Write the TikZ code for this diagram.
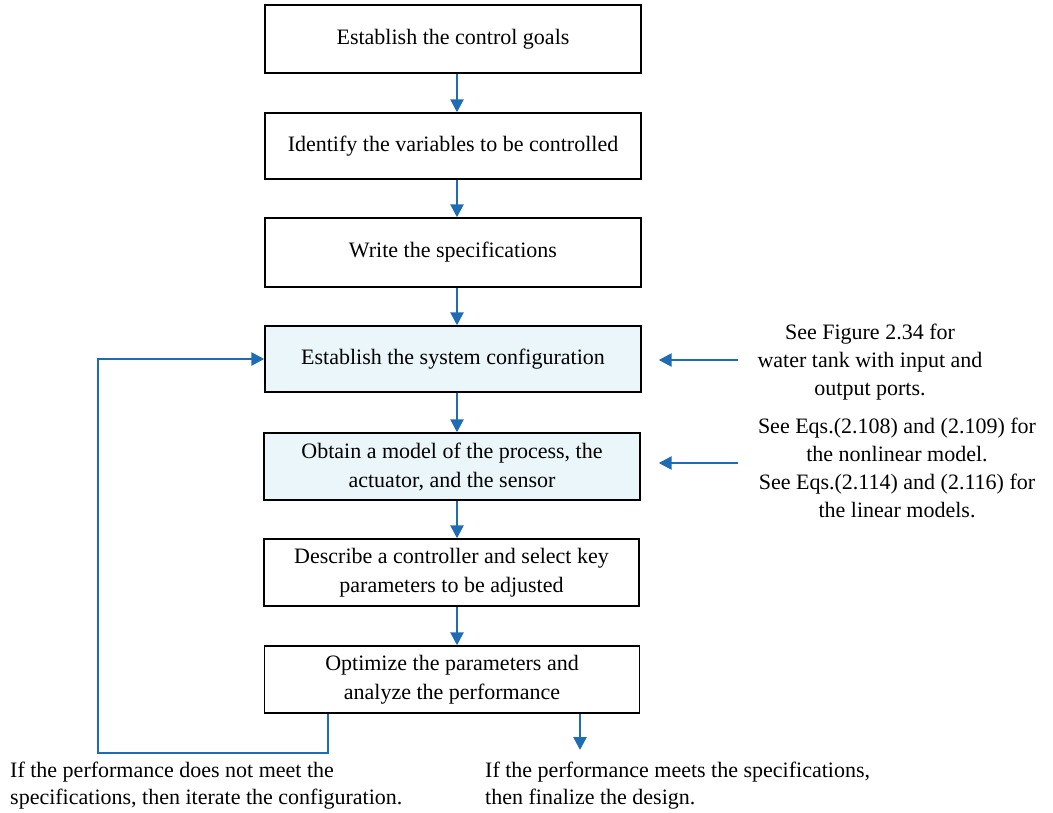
\documentclass[tikz,border=0pt]{standalone}
\usepackage{fontspec}
\setmainfont{Liberation Serif}
\usetikzlibrary{arrows.meta}
\definecolor{arrblue}{RGB}{30,108,180}
\definecolor{shade}{RGB}{234,246,250}
\tikzset{
  box/.style={draw=black, line width=1.4pt, minimum width=376pt, minimum height=67pt,
    align=center, inner sep=2pt, font=\fontsize{22}{29}\selectfont},
  shaded/.style={fill=shade},
  arr/.style={draw=arrblue, line width=2.6pt, -{Triangle[width=13pt,length=13pt]}},
  link/.style={draw=arrblue, line width=2.6pt},
  note/.style={align=center, inner sep=0pt, font=\fontsize{22}{28}\selectfont},
  foot/.style={align=left, inner sep=0pt, anchor=west, font=\fontsize{22}{27}\selectfont}
}
\begin{document}
\begin{tikzpicture}[x=1pt,y=-1pt]
\useasboundingbox (0,0) rectangle (1053,812);
\node[box, minimum height=68pt] (b1) at (453,39) {Establish the control goals};
\node[box, minimum height=66pt] (b2) at (453,146) {Identify the variables to be controlled};
\node[box, minimum height=69pt] (b3) at (453,252.5) {Write the specifications};
\node[box, shaded, minimum height=66pt] (b4) at (453,359) {Establish the system configuration};
\node[box, shaded] (b5) at (452,466.5) {Obtain a model of the process, the\\actuator, and the sensor};
\node[box, minimum width=375pt] (b6) at (451.5,572.5) {Describe a controller and select key\\parameters to be adjusted};
\node[box, minimum width=375pt] (b7) at (452,679.5) {Optimize the parameters and\\analyze the performance};

\node[note] (n1) at (870,362) {See Figure 2.34 for\\water tank with input and\\output ports.};
\node[note] (n2) at (897,467.5) {See Eqs.(2.108) and (2.109) for\\the nonlinear model.\\See Eqs.(2.114) and (2.116) for\\the linear models.};

\node[foot] (f1) at (10,786) {If the performance does not meet the\\specifications, then iterate the configuration.};
\node[foot] (f2) at (485,786) {If the performance meets the specifications,\\then finalize the design.};

\coordinate (ax) at (457,0);
\draw[arr] (b1.south -| ax) -- (b2.north -| ax);
\draw[arr] (b2.south -| ax) -- (b3.north -| ax);
\draw[arr] (b3.south -| ax) -- (b4.north -| ax);
\draw[arr] (b4.south -| ax) -- (b5.north -| ax);
\draw[arr] (b5.south -| ax) -- (b6.north -| ax);
\draw[arr] (b6.south -| ax) -- (b7.north -| ax);

\coordinate (fbx) at (328,0);
\coordinate (fb) at (98,753);
\draw[arr] (b7.south -| fbx) |- (fb) |- (b4.west);

\coordinate (fin) at (580,750);
\draw[arr] (fin |- b7.south) -- (fin);

\coordinate (s1) at (738,360);
\coordinate (s2) at (738,463);
\path (b4.east) ++(17,0) coordinate (t1);
\path (b5.east) ++(18,0) coordinate (t2);
\draw[arr] (s1) -- (t1 |- s1);
\draw[arr] (s2) -- (t2 |- s2);
\end{tikzpicture}
\end{document}
